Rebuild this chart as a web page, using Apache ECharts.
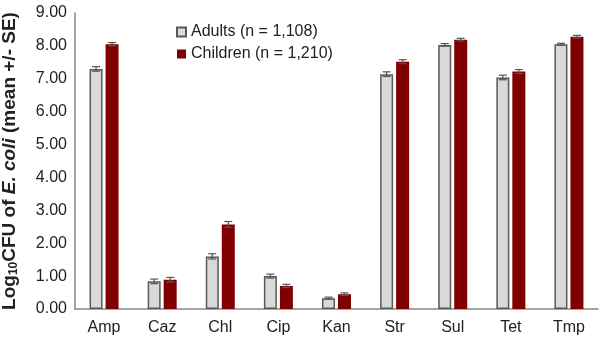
<!DOCTYPE html>
<html>
<head>
<meta charset="utf-8">
<script src="https://cdn.jsdelivr.net/npm/echarts@6/dist/echarts.min.js"></script>
<style>
  html, body { margin: 0; padding: 0; background: #fff; }
  #chart { width: 602px; height: 338px; }
</style>
</head>
<body>
<div id="chart"></div>
<script>
const categories = ['Amp', 'Caz', 'Chl', 'Cip', 'Kan', 'Str', 'Sul', 'Tet', 'Tmp']
const adults = [7.30, 0.84, 1.60, 1.00, 0.33, 7.14, 8.03, 7.04, 8.05]
const adultsSE = [0.07, 0.07, 0.08, 0.06, 0.03, 0.07, 0.04, 0.07, 0.03]
const children = [8.05, 0.89, 2.57, 0.70, 0.45, 7.52, 8.19, 7.22, 8.28]
const childrenSE = [0.05, 0.07, 0.09, 0.05, 0.04, 0.06, 0.04, 0.06, 0.04]
const yTicks = [0, 1, 2, 3, 4, 5, 6, 7, 8, 9]

const FONT = 'Arial, "Liberation Sans", sans-serif'
const BAR_W = 13
const BAR_GAP = 3

// error bars drawn next to each bar (offset -1 = adults, +1 = children)
function errorSeries(name, values, se, side) {
  return {
    name: name + ' SE',
    type: 'custom',
    z: 10,
    silent: true,
    data: values.map((v, i) => [i, v - se[i], v + se[i]]),
    renderItem(params, api) {
      const lo = api.coord([api.value(0), api.value(1)])
      const hi = api.coord([api.value(0), api.value(2)])
      const x = lo[0] + side * (BAR_W + BAR_GAP) / 2
      const cap = 4
      const style = { stroke: '#555', lineWidth: 1.2 }
      return {
        type: 'group',
        children: [
          { type: 'line', shape: { x1: x, y1: lo[1], x2: x, y2: hi[1] }, style },
          { type: 'line', shape: { x1: x - cap, y1: lo[1], x2: x + cap, y2: lo[1] }, style },
          { type: 'line', shape: { x1: x - cap, y1: hi[1], x2: x + cap, y2: hi[1] }, style }
        ]
      }
    }
  }
}

const chart = echarts.init(document.getElementById('chart'))
chart.setOption({
  animation: false,
  textStyle: { fontFamily: FONT },
  grid: { left: 75, right: 4, top: 13, bottom: 29, containLabel: false, outerBoundsMode: 'none' },
  legend: {
    orient: 'vertical',
    left: 171,
    top: 19,
    icon: 'rect',
    itemWidth: 9,
    itemHeight: 9,
    itemGap: 6,
    data: ['Adults (n = 1,108)', 'Children (n = 1,210)'],
    textStyle: { fontFamily: FONT, fontSize: 16, color: '#222' }
  },
  xAxis: {
    type: 'category',
    data: categories,
    axisLine: { lineStyle: { color: '#888', width: 1.5 } },
    axisTick: { show: false },
    axisLabel: { fontFamily: FONT, fontSize: 16, color: '#222', margin: 11 }
  },
  yAxis: {
    type: 'value',
    min: yTicks[0],
    max: yTicks[yTicks.length - 1],
    interval: 1,
    axisLine: { show: true, lineStyle: { color: '#888', width: 1.5 } },
    axisTick: { show: false },
    splitLine: { show: false },
    axisLabel: {
      fontFamily: FONT, fontSize: 16, color: '#222', margin: 8,
      formatter: v => v.toFixed(2)
    },
    name: '{b|Log}{sub|10}{b|CFU of }{bi|E. coli}{b| (mean +/- SE)}',
    nameLocation: 'middle',
    nameRotate: 90,
    nameGap: 55,
    nameTextStyle: {
      rich: {
        b: { fontFamily: FONT, fontSize: 19, fontWeight: 'bold', color: '#222' },
        bi: { fontFamily: FONT, fontSize: 19, fontWeight: 'bold', fontStyle: 'italic', color: '#222' },
        sub: { fontFamily: FONT, fontSize: 12, fontWeight: 'bold', color: '#222', verticalAlign: 'bottom', padding: [8, 0, 0, 0] }
      }
    }
  },
  series: [
    {
      name: 'Adults (n = 1,108)',
      type: 'bar',
      data: adults,
      barWidth: BAR_W,
      barGap: (BAR_GAP / BAR_W * 100) + '%',
      itemStyle: { color: '#d9d9d9', borderColor: '#595959', borderWidth: 1.5 }
    },
    {
      name: 'Children (n = 1,210)',
      type: 'bar',
      data: children,
      barWidth: BAR_W,
      itemStyle: { color: '#800000' }
    },
    errorSeries('Adults', adults, adultsSE, -1),
    errorSeries('Children', children, childrenSE, 1)
  ]
})
</script>
</body>
</html>
